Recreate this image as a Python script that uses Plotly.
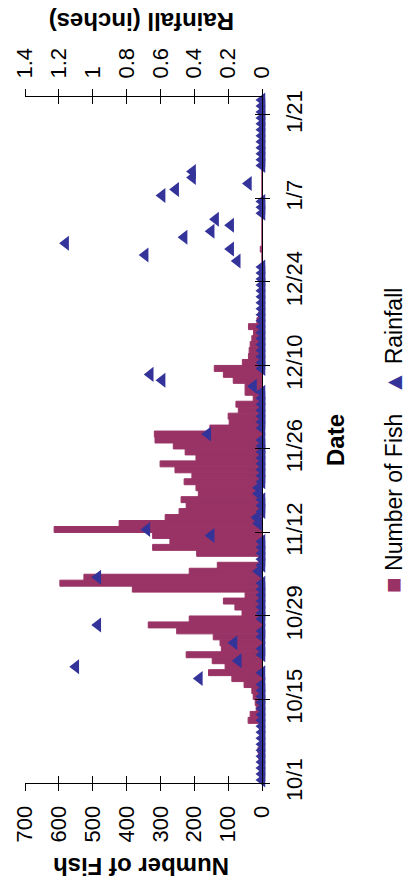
import plotly.graph_objects as go
import pandas as pd

# ---------------- data ----------------
start_date = "2004-10-01"
n_days = 115
dates = pd.date_range(start_date, periods=n_days, freq="D")

fish = [
    0, 2, 8, 4, 10, 12, 6, 5, 6, 8,
    41, 35, 17, 20, 26, 30, 53, 89, 158, 109,
    147, 224, 120, 124, 144, 252, 336, 215, 59, 80,
    114, 50, 383, 597, 526, 215, 132, 10, 193, 323,
    272, 323, 614, 422, 286, 245, 224, 239, 188, 195,
    230, 207, 257, 301, 195, 227, 262, 316, 318, 154,
    97, 100, 70, 77, 26, 50, 50, 85, 114, 141,
    58, 40, 38, 35, 30, 25, 40, 15, 10, 5,
    3, 0, 0, 0, 0, 0, 0, 0, 0, 5,
    0, 0, 0, 0, 0, 0, 0, 0, 0, 0,
    0, 0, 0, 0, 0, 0, 0, 0, 0, 0,
    0, 0, 0, 0, 0,
]

rain = [
    0, 0, 0, 0, 0, 0, 0, 0, 0, 0,
    0, 0, 0, 0, 0, 0, 0, 0.37, 0, 1.10,
    0.14, 0, 0, 0.165, 0, 0, 0.97, 0, 0, 0,
    0, 0, 0, 0, 0.97, 0.02, 0, 0, 0, 0,
    0, 0.30, 0.68, 0.02, 0.03, 0, 0, 0, 0.02, 0.02,
    0, 0, 0, 0, 0, 0, 0, 0, 0.32, 0,
    0, 0, 0, 0, 0, 0, 0.05, 0.59, 0.66, 0,
    0, 0, 0, 0, 0, 0, 0, 0, 0, 0,
    0, 0, 0, 0, 0, 0, 0, 0.146, 0.69, 0.185,
    1.16, 0.46, 0.30, 0.185, 0.274, 0, 0, 0, 0.59, 0.51,
    0.08, 0.41, 0.41, 0, 0, 0, 0, 0, 0, 0,
    0, 0, 0, 0, 0,
]

fish_ticks = [0, 100, 200, 300, 400, 500, 600, 700]
rain_ticks = [0, 0.2, 0.4, 0.6, 0.8, 1.0, 1.2, 1.4]
date_tick_labels = ["10/1", "10/15", "10/29", "11/12", "11/26",
                    "12/10", "12/24", "1/7", "1/21"]
date_tick_vals = list(dates[::14])

# ---------------- layout geometry ----------------
W, H = 408, 884
PL, PR, PT, PB = 25, 262, 97, 783
xdom = [PL / W, PR / W]
ydom = [(H - PB) / H, (H - PT) / H]

FONT = "Liberation Sans, Arial, Helvetica, sans-serif"
BAR_COLOR = "#993366"
TRI_COLOR = "#333399"
DAY_MS = 86400000
date_range = [dates[0], dates[-1] + pd.Timedelta(days=1)]

fig = go.Figure()

fig.add_trace(go.Bar(
    x=fish, y=dates, orientation="h",
    yperiod=DAY_MS, yperiodalignment="middle",
    marker=dict(color=BAR_COLOR, line=dict(width=1, color=BAR_COLOR)),
    xaxis="x", yaxis="y", name="Number of Fish",
))

fig.add_trace(go.Scatter(
    x=rain, y=dates, mode="markers",
    yperiod=DAY_MS, yperiodalignment="middle",
    marker=dict(symbol="triangle-left", size=13, color=TRI_COLOR, line=dict(width=0)),
    xaxis="x2", yaxis="y", name="Rainfall", cliponaxis=False,
))

# empty helper traces so the "inside" tick overlays get drawn (crossing ticks)
fig.add_trace(go.Scatter(x=[], y=[], xaxis="x3", yaxis="y", showlegend=False))
fig.add_trace(go.Scatter(x=[], y=[], xaxis="x4", yaxis="y", showlegend=False))
fig.add_trace(go.Scatter(x=[], y=[], xaxis="x", yaxis="y2", showlegend=False))

tick_font = dict(family=FONT, size=22, color="black")
common = dict(showgrid=False, zeroline=False, automargin=False,
              tickcolor="black", ticklen=7, tickwidth=1)

fig.update_layout(
    width=W, height=H,
    margin=dict(l=0, r=0, t=0, b=0),
    paper_bgcolor="white", plot_bgcolor="white",
    showlegend=False, bargap=0,
    xaxis=dict(domain=xdom, range=[700, 0], tickvals=fish_ticks, tickangle=-90,
               ticks="outside", showline=True, linecolor="black", linewidth=1,
               anchor="y", side="bottom", tickfont=tick_font,
               ticklabelstandoff=6, **common),
    xaxis2=dict(range=[1.4, 0], tickvals=rain_ticks, tickangle=-90,
                ticks="outside", showline=True, linecolor="black", linewidth=1,
                overlaying="x", anchor="y", side="top", tickfont=tick_font,
                ticklabelstandoff=6, **common),
    xaxis3=dict(range=[700, 0], tickvals=fish_ticks, ticks="inside",
                showticklabels=False, showline=False, overlaying="x",
                anchor="y", side="bottom", **common),
    xaxis4=dict(range=[1.4, 0], tickvals=rain_ticks, ticks="inside",
                showticklabels=False, showline=False, overlaying="x",
                anchor="y", side="top", **common),
    yaxis=dict(domain=ydom, type="date", range=date_range,
               tickvals=date_tick_vals, ticktext=date_tick_labels,
               tickangle=-90, ticks="outside", showline=True,
               linecolor="black", linewidth=1, anchor="x", side="right",
               tickfont=tick_font, ticklabelstandoff=6, **common),
    yaxis2=dict(type="date", range=date_range, tickvals=date_tick_vals,
                ticks="inside", showticklabels=False, showline=False,
                overlaying="y", anchor="x", side="right", **common),
)

title_font = dict(family=FONT, size=24, color="black")
fig.add_annotation(text="<b>Rainfall (inches)</b>", xref="paper", yref="paper",
                   x=142 / W, y=(H - 22) / H, textangle=180, showarrow=False,
                   xanchor="center", yanchor="middle", font=title_font)
fig.add_annotation(text="<b>Number of Fish</b>", xref="paper", yref="paper",
                   x=141 / W, y=(H - 867) / H, textangle=180, showarrow=False,
                   xanchor="center", yanchor="middle", font=title_font)
fig.add_annotation(text="<b>Date</b>", xref="paper", yref="paper",
                   x=335 / W, y=(H - 440) / H, textangle=-90, showarrow=False,
                   xanchor="center", yanchor="middle", font=title_font)
fig.add_annotation(
    text=(f"<span style='color:{BAR_COLOR};font-size:26px'>■</span>&nbsp;Number of Fish"
          f"&nbsp;&nbsp;&nbsp;<span style='color:{TRI_COLOR};font-size:24px'>▲</span>&nbsp;Rainfall"),
    xref="paper", yref="paper", x=393 / W, y=(H - 441) / H, textangle=-90,
    showarrow=False, xanchor="center", yanchor="middle",
    font=dict(family=FONT, size=23, color="black"))

fig.write_html(
    "out.html",
    config={"displayModeBar": False, "staticPlot": True},
    post_script="document.body.style.margin='0px';document.body.style.overflow='hidden';",
)
